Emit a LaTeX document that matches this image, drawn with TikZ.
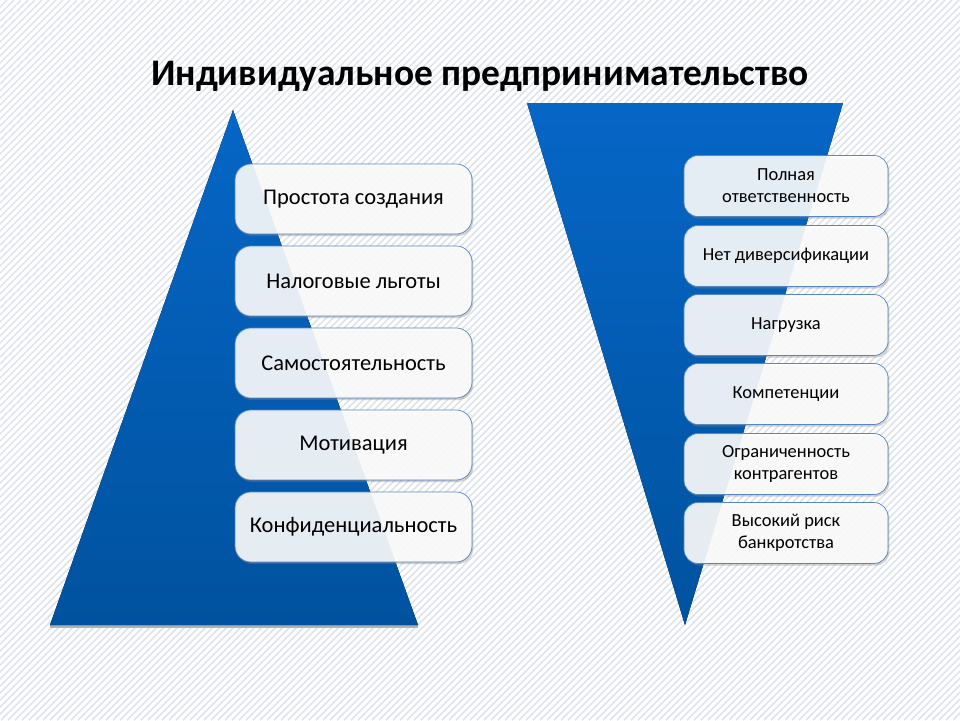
\documentclass[tikz,border=0pt]{standalone}
\usepackage{fontspec}
\setmainfont{Carlito}
\usetikzlibrary{shadows}
\definecolor{bleuhaut}{HTML}{0666C6}
\definecolor{bleubas}{HTML}{00529E}
\definecolor{bord}{HTML}{5A86BE}
\definecolor{raie}{HTML}{DAE1E9}
\begin{document}
\begin{tikzpicture}[x=0.02cm,y=-0.02cm]
		\tikzstyle{plus}=[minimum width=4.74cm, minimum height=1.4cm, rounded corners=9pt, draw=bord, fill=white, fill opacity=0.88, text opacity=1, drop shadow={opacity=0.35,shadow xshift=0.8pt,shadow yshift=-1.2pt}, font=\fontsize{12.8}{14}\selectfont, align=center]
		\tikzstyle{moins}=[minimum width=4.08cm, minimum height=1.22cm, rounded corners=8pt, draw=bord, fill=white, fill opacity=0.88, text opacity=1, drop shadow={opacity=0.35,shadow xshift=0.8pt,shadow yshift=-1.2pt}, font=\fontsize{10.5}{12.5}\selectfont, align=center]
		% fond
		\useasboundingbox (0,0) rectangle (960,720);
		\fill[white] (0,0) rectangle (960,720);
		\begin{scope}
			\clip (0,0) rectangle (960,720);
			\foreach \x in {-720,-713,...,960} \draw[raie, line width=0.8pt] (\x,720) -- (\x+720,0);
		\end{scope}
		\node[font=\fontsize{21.3}{24}\selectfont\bfseries] (titre) at (480,76) {Индивидуальное предпринимательство};
		% triangle gauche
		\fill[gray!60] (50,625) -- (418,625) -- (418,628) -- (50,628) -- cycle;
		\fill[top color=bleuhaut, bottom color=bleubas] (233,110) -- (418,625) -- (50,625) -- cycle;
		\node[plus] (p1) at (353.5,199) {Простота создания};
		\node[plus] (p2) at (353.5,281) {Налоговые льготы};
		\node[plus] (p3) at (353.5,363) {Самостоятельность};
		\node[plus] (p4) at (353.5,445) {Мотивация};
		\node[plus] (p5) at (353.5,527) {Конфиденциальность};
		% triangle droite
		\fill[top color=bleuhaut, bottom color=bleubas] (527,103) -- (843,103) -- (685,625) -- cycle;
		\node[moins] (m1) at (786,186) {Полная\\ответственность};
		\node[moins] (m2) at (786,256) {Нет диверсификации};
		\node[moins] (m3) at (786,325) {Нагрузка};
		\node[moins] (m4) at (786,394) {Компетенции};
		\node[moins] (m5) at (786,464) {Ограниченность\\контрагентов};
		\node[moins] (m6) at (786,533) {Высокий риск\\банкротства};
\end{tikzpicture}
\end{document}
